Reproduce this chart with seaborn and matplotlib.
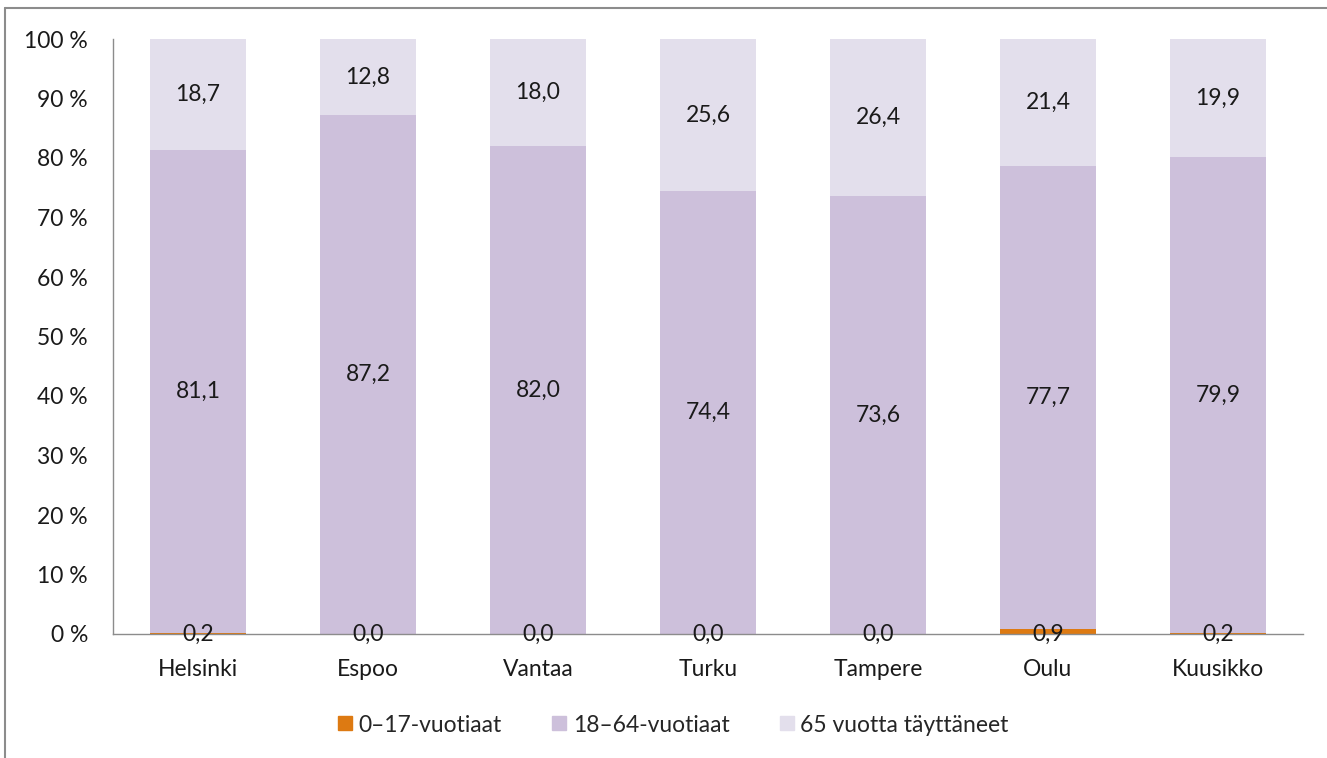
import numpy as np
import pandas as pd
import matplotlib
matplotlib.use("Agg")
import matplotlib.pyplot as plt
import seaborn as sns
from matplotlib.lines import Line2D

# ==============================
# data
# ==============================
cities = ["Helsinki", "Espoo", "Vantaa", "Turku", "Tampere", "Oulu", "Kuusikko"]
age_0_17 = [0.2, 0.0, 0.0, 0.0, 0.0, 0.9, 0.2]
age_18_64 = [81.1, 87.2, 82.0, 74.4, 73.6, 77.7, 79.9]
age_65 = [18.7, 12.8, 18.0, 25.6, 26.4, 21.4, 19.9]
series_names = ["0\u201317-vuotiaat", "18\u201364-vuotiaat", "65 vuotta täyttäneet"]
colors = ["#DD7A12", "#CDC0DB", "#E3DFEC"]
yticks = [0, 10, 20, 30, 40, 50, 60, 70, 80, 90, 100]

sns.set_style("white")
plt.rcParams["font.family"] = ["Lato", "DejaVu Sans"]
FS = 16.5

df = pd.DataFrame({"kunta": cities, "a": age_0_17, "b": age_18_64, "c": age_65})
df["b_bottom"] = df["a"]
df["c_bottom"] = df["a"] + df["b"]

fig = plt.figure(figsize=(13.27, 7.58), dpi=100)
ax = fig.add_axes([113 / 1327, 1 - 634 / 758, (1303 - 113) / 1327, (634 - 39) / 758])

layers = [("a", None), ("b", "b_bottom"), ("c", "c_bottom")]
for (col, bot), color in zip(layers, colors):
    bottom = df[bot] if bot else 0
    sns.barplot(data=df, x="kunta", y=col, bottom=bottom, color=color,
                width=0.565, saturation=1, ax=ax, errorbar=None, linewidth=0)

# value labels
def fmt(v):
    return f"{v:.1f}".replace(".", ",")

for i, row in df.iterrows():
    ax.text(i, 0, fmt(row["a"]), ha="center", va="center", fontsize=FS, color="#1a1a1a")
    ax.text(i, row["b_bottom"] + row["b"] / 2, fmt(row["b"]),
            ha="center", va="center", fontsize=FS, color="#1a1a1a")
    ax.text(i, row["c_bottom"] + row["c"] / 2, fmt(row["c"]),
            ha="center", va="center", fontsize=FS, color="#1a1a1a")

ax.set_ylim(0, 100)
ax.set_xlim(-0.5, len(cities) - 0.5)
ax.set_yticks(yticks)
ax.set_yticklabels([f"{t} %" for t in yticks], fontsize=FS, color="#1a1a1a")
ax.set_xticks(range(len(cities)))
ax.set_xticklabels(cities, fontsize=FS, color="#1a1a1a")
ax.tick_params(axis="x", length=0, pad=18)
ax.tick_params(axis="y", length=0, pad=18)
ax.set_xlabel("")
ax.set_ylabel("")
for s in ["top", "right"]:
    ax.spines[s].set_visible(False)
for s in ["left", "bottom"]:
    ax.spines[s].set_color("#8c8c8c")
    ax.spines[s].set_linewidth(1.0)

handles = [Line2D([], [], marker="s", linestyle="", markersize=10,
                  markerfacecolor=c, markeredgecolor=c) for c in colors]
fig.legend(handles, series_names, loc="center", bbox_to_anchor=(671 / 1327, 1 - 725 / 758),
           ncol=3, frameon=False, fontsize=FS, handletextpad=0.1, columnspacing=2.0,
           handlelength=1.0)

# outer chart frame
fig.add_artist(Line2D([5 / 1327, 5 / 1327], [0, 1 - 8 / 758], transform=fig.transFigure,
                      color="#8c8c8c", linewidth=1.5))
fig.add_artist(Line2D([5 / 1327, 1], [1 - 8 / 758, 1 - 8 / 758], transform=fig.transFigure,
                      color="#8c8c8c", linewidth=1.5))

fig.savefig("out.png", dpi=100)
